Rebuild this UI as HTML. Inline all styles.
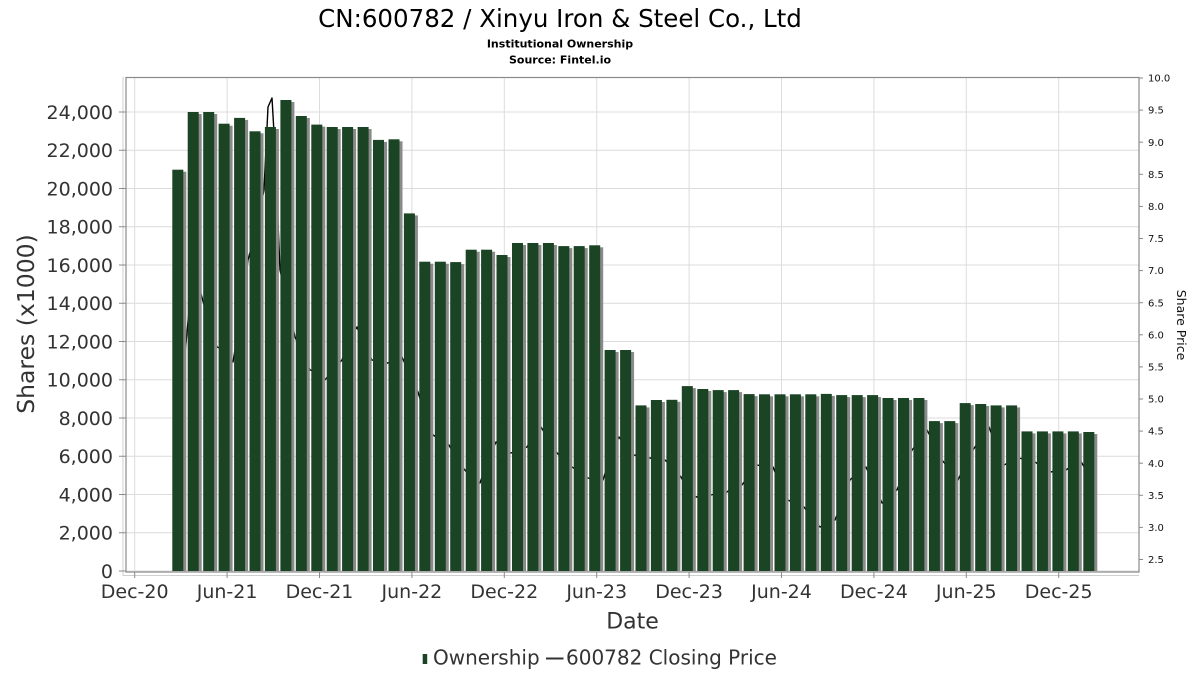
<!DOCTYPE html>
<html><head><meta charset="utf-8"><style>
html,body{margin:0;padding:0;background:#fff;}
svg{display:block;font-family:"DejaVu Sans","Liberation Sans",sans-serif;}
</style></head><body>
<svg width="1200" height="675" viewBox="0 0 1200 675" xmlns="http://www.w3.org/2000/svg">
<rect width="1200" height="675" fill="#fff"/>
<text x="560" y="27" font-size="24.5" text-anchor="middle" fill="#000">CN:600782 / Xinyu Iron &amp; Steel Co., Ltd</text>
<text x="560" y="47.5" font-size="11" font-weight="bold" text-anchor="middle" fill="#000">Institutional Ownership</text>
<text x="560" y="63.5" font-size="11" font-weight="bold" text-anchor="middle" fill="#000">Source: Fintel.io</text>

<!-- grid -->
<g stroke="#dcdcdc" stroke-width="1">
<line x1="126" y1="571" x2="1139" y2="571"/>
<line x1="126" y1="532.75" x2="1139" y2="532.75"/>
<line x1="126" y1="494.5" x2="1139" y2="494.5"/>
<line x1="126" y1="456.25" x2="1139" y2="456.25"/>
<line x1="126" y1="418" x2="1139" y2="418"/>
<line x1="126" y1="379.75" x2="1139" y2="379.75"/>
<line x1="126" y1="341.5" x2="1139" y2="341.5"/>
<line x1="126" y1="303.25" x2="1139" y2="303.25"/>
<line x1="126" y1="265" x2="1139" y2="265"/>
<line x1="126" y1="226.75" x2="1139" y2="226.75"/>
<line x1="126" y1="188.5" x2="1139" y2="188.5"/>
<line x1="126" y1="150.25" x2="1139" y2="150.25"/>
<line x1="126" y1="112" x2="1139" y2="112"/>
<line x1="134.7" y1="77" x2="134.7" y2="572"/>
<line x1="227.1" y1="77" x2="227.1" y2="572"/>
<line x1="319.5" y1="77" x2="319.5" y2="572"/>
<line x1="411.9" y1="77" x2="411.9" y2="572"/>
<line x1="504.3" y1="77" x2="504.3" y2="572"/>
<line x1="596.7" y1="77" x2="596.7" y2="572"/>
<line x1="689.1" y1="77" x2="689.1" y2="572"/>
<line x1="781.5" y1="77" x2="781.5" y2="572"/>
<line x1="873.9" y1="77" x2="873.9" y2="572"/>
<line x1="966.3" y1="77" x2="966.3" y2="572"/>
<line x1="1058.7" y1="77" x2="1058.7" y2="572"/>
</g>

<!-- price line (behind bars) -->
<polyline fill="none" stroke="#000" stroke-width="1.4" stroke-linejoin="round" points="176,420 184,365 190,300 200,290 208,320 217,347 225,350 233,362 240,320 248,260 256,230 264,190 268,107 272,98 275,150 280,270 287,300 295,337 303,355 310,370 318,372 325,380 333,370 342,360 349,340 357,327 364,345 372,360 380,362 387,363 395,362 402,357 410,375 418,392 425,415 433,435 441,440 449,445 456,458 464,469 472,478 480,483 488,460 496,442 503,450 511,453 519,450 527,447 534,435 541,427 549,440 557,453 564,460 572,467 580,472 588,478 596,480 603,480 611,455 619,437 626,447 634,455 642,457 650,458 657,459 665,460 673,468 681,477 688,490 696,497 703,496 711,495 719,493 727,492 735,485 742,485 749,475 756,465 765,466 773,467 780,485 788,500 796,504 804,507 812,518 820,527 828,524 835,520 843,500 850,480 858,472 866,467 874,485 882,503 889,497 897,490 905,470 912,450 920,440 927,430 935,445 942,460 950,470 958,480 965,465 973,450 981,438 989,427 996,446 1004,465 1012,461 1019,458 1027,460 1035,462 1043,467 1050,472 1058,471 1066,470 1073,465 1080,460 1086,470"/>

<!-- bar shadows -->
<g fill="#8a8a8a">
<rect x="175.3" y="171.7" width="11" height="399.3"/>
<rect x="190.7" y="114" width="11" height="457"/>
<rect x="206.2" y="114" width="11" height="457"/>
<rect x="221.6" y="125.7" width="11" height="445.3"/>
<rect x="237.1" y="119.9" width="11" height="451.1"/>
<rect x="252.5" y="133.3" width="11" height="437.7"/>
<rect x="267.9" y="129" width="11" height="442"/>
<rect x="283.4" y="102" width="11" height="469"/>
<rect x="298.8" y="118" width="11" height="453"/>
<rect x="314.3" y="126.6" width="11" height="444.4"/>
<rect x="329.7" y="129" width="11" height="442"/>
<rect x="345.1" y="129" width="11" height="442"/>
<rect x="360.6" y="129" width="11" height="442"/>
<rect x="376" y="141.9" width="11" height="429.1"/>
<rect x="391.5" y="141.3" width="11" height="429.7"/>
<rect x="406.9" y="215.4" width="11" height="355.6"/>
<rect x="422.3" y="263.7" width="11" height="307.3"/>
<rect x="437.8" y="263.7" width="11" height="307.3"/>
<rect x="453.2" y="264.1" width="11" height="306.9"/>
<rect x="468.7" y="251.7" width="11" height="319.3"/>
<rect x="484.1" y="251.7" width="11" height="319.3"/>
<rect x="499.5" y="257" width="11" height="314"/>
<rect x="515" y="245" width="11" height="326"/>
<rect x="530.4" y="245" width="11" height="326"/>
<rect x="545.9" y="245" width="11" height="326"/>
<rect x="561.3" y="248.1" width="11" height="322.9"/>
<rect x="576.7" y="248.1" width="11" height="322.9"/>
<rect x="592.2" y="247.3" width="11" height="323.7"/>
<rect x="607.6" y="352" width="11" height="219"/>
<rect x="623.1" y="352" width="11" height="219"/>
<rect x="638.5" y="407.4" width="11" height="163.6"/>
<rect x="653.9" y="402" width="11" height="169"/>
<rect x="669.4" y="401.8" width="11" height="169.2"/>
<rect x="684.8" y="388.1" width="11" height="182.9"/>
<rect x="700.3" y="391" width="11" height="180"/>
<rect x="715.7" y="392.1" width="11" height="178.9"/>
<rect x="731.1" y="392.1" width="11" height="178.9"/>
<rect x="746.6" y="396.1" width="11" height="174.9"/>
<rect x="762" y="396.3" width="11" height="174.7"/>
<rect x="777.5" y="396.3" width="11" height="174.7"/>
<rect x="792.9" y="396.3" width="11" height="174.7"/>
<rect x="808.3" y="396.3" width="11" height="174.7"/>
<rect x="823.8" y="395.9" width="11" height="175.1"/>
<rect x="839.2" y="397.1" width="11" height="173.9"/>
<rect x="854.7" y="397.1" width="11" height="173.9"/>
<rect x="870.1" y="397.1" width="11" height="173.9"/>
<rect x="885.5" y="400" width="11" height="171"/>
<rect x="901" y="400" width="11" height="171"/>
<rect x="916.4" y="400" width="11" height="171"/>
<rect x="931.9" y="423.1" width="11" height="147.9"/>
<rect x="947.3" y="423.1" width="11" height="147.9"/>
<rect x="962.7" y="405.1" width="11" height="165.9"/>
<rect x="978.2" y="406" width="11" height="165"/>
<rect x="993.6" y="407.4" width="11" height="163.6"/>
<rect x="1009.1" y="407.4" width="11" height="163.6"/>
<rect x="1024.5" y="433.4" width="11" height="137.6"/>
<rect x="1039.9" y="433.4" width="11" height="137.6"/>
<rect x="1055.4" y="433.4" width="11" height="137.6"/>
<rect x="1070.8" y="433.4" width="11" height="137.6"/>
<rect x="1086.3" y="434" width="11" height="137"/>
</g>
<!-- bars -->
<g fill="#1a4424">
<rect x="172.3" y="169.7" width="11" height="401.3"/>
<rect x="187.7" y="112" width="11" height="459"/>
<rect x="203.2" y="112" width="11" height="459"/>
<rect x="218.6" y="123.7" width="11" height="447.3"/>
<rect x="234.1" y="117.9" width="11" height="453.1"/>
<rect x="249.5" y="131.3" width="11" height="439.7"/>
<rect x="264.9" y="127" width="11" height="444"/>
<rect x="280.4" y="100" width="11" height="471"/>
<rect x="295.8" y="116" width="11" height="455"/>
<rect x="311.3" y="124.6" width="11" height="446.4"/>
<rect x="326.7" y="127" width="11" height="444"/>
<rect x="342.1" y="127" width="11" height="444"/>
<rect x="357.6" y="127" width="11" height="444"/>
<rect x="373" y="139.9" width="11" height="431.1"/>
<rect x="388.5" y="139.3" width="11" height="431.7"/>
<rect x="403.9" y="213.4" width="11" height="357.6"/>
<rect x="419.3" y="261.7" width="11" height="309.3"/>
<rect x="434.8" y="261.7" width="11" height="309.3"/>
<rect x="450.2" y="262.1" width="11" height="308.9"/>
<rect x="465.7" y="249.7" width="11" height="321.3"/>
<rect x="481.1" y="249.7" width="11" height="321.3"/>
<rect x="496.5" y="255" width="11" height="316"/>
<rect x="512" y="243" width="11" height="328"/>
<rect x="527.4" y="243" width="11" height="328"/>
<rect x="542.9" y="243" width="11" height="328"/>
<rect x="558.3" y="246.1" width="11" height="324.9"/>
<rect x="573.7" y="246.1" width="11" height="324.9"/>
<rect x="589.2" y="245.3" width="11" height="325.7"/>
<rect x="604.6" y="350" width="11" height="221"/>
<rect x="620.1" y="350" width="11" height="221"/>
<rect x="635.5" y="405.4" width="11" height="165.6"/>
<rect x="650.9" y="400" width="11" height="171"/>
<rect x="666.4" y="399.8" width="11" height="171.2"/>
<rect x="681.8" y="386.1" width="11" height="184.9"/>
<rect x="697.3" y="389" width="11" height="182"/>
<rect x="712.7" y="390.1" width="11" height="180.9"/>
<rect x="728.1" y="390.1" width="11" height="180.9"/>
<rect x="743.6" y="394.1" width="11" height="176.9"/>
<rect x="759" y="394.3" width="11" height="176.7"/>
<rect x="774.5" y="394.3" width="11" height="176.7"/>
<rect x="789.9" y="394.3" width="11" height="176.7"/>
<rect x="805.3" y="394.3" width="11" height="176.7"/>
<rect x="820.8" y="393.9" width="11" height="177.1"/>
<rect x="836.2" y="395.1" width="11" height="175.9"/>
<rect x="851.7" y="395.1" width="11" height="175.9"/>
<rect x="867.1" y="395.1" width="11" height="175.9"/>
<rect x="882.5" y="398" width="11" height="173"/>
<rect x="898" y="398" width="11" height="173"/>
<rect x="913.4" y="398" width="11" height="173"/>
<rect x="928.9" y="421.1" width="11" height="149.9"/>
<rect x="944.3" y="421.1" width="11" height="149.9"/>
<rect x="959.7" y="403.1" width="11" height="167.9"/>
<rect x="975.2" y="404" width="11" height="167"/>
<rect x="990.6" y="405.4" width="11" height="165.6"/>
<rect x="1006.1" y="405.4" width="11" height="165.6"/>
<rect x="1021.5" y="431.4" width="11" height="139.6"/>
<rect x="1036.9" y="431.4" width="11" height="139.6"/>
<rect x="1052.4" y="431.4" width="11" height="139.6"/>
<rect x="1067.8" y="431.4" width="11" height="139.6"/>
<rect x="1083.3" y="432" width="11" height="139"/>
</g>

<!-- frame -->
<rect x="126" y="77.5" width="1013" height="494.5" fill="none" stroke="#8a8a8a" stroke-width="1.2"/>
<line x1="123" y1="77" x2="123" y2="576" stroke="#cfcfcf" stroke-width="1"/>
<line x1="123" y1="575.5" x2="1139" y2="575.5" stroke="#cfcfcf" stroke-width="1"/>
<g stroke="#8a8a8a" stroke-width="1">
<line x1="119" y1="571" x2="126" y2="571"/>
<line x1="119" y1="532.75" x2="126" y2="532.75"/>
<line x1="119" y1="494.5" x2="126" y2="494.5"/>
<line x1="119" y1="456.25" x2="126" y2="456.25"/>
<line x1="119" y1="418" x2="126" y2="418"/>
<line x1="119" y1="379.75" x2="126" y2="379.75"/>
<line x1="119" y1="341.5" x2="126" y2="341.5"/>
<line x1="119" y1="303.25" x2="126" y2="303.25"/>
<line x1="119" y1="265" x2="126" y2="265"/>
<line x1="119" y1="226.75" x2="126" y2="226.75"/>
<line x1="119" y1="188.5" x2="126" y2="188.5"/>
<line x1="119" y1="150.25" x2="126" y2="150.25"/>
<line x1="119" y1="112" x2="126" y2="112"/>
<line x1="134.7" y1="572" x2="134.7" y2="578"/>
<line x1="227.1" y1="572" x2="227.1" y2="578"/>
<line x1="319.5" y1="572" x2="319.5" y2="578"/>
<line x1="411.9" y1="572" x2="411.9" y2="578"/>
<line x1="504.3" y1="572" x2="504.3" y2="578"/>
<line x1="596.7" y1="572" x2="596.7" y2="578"/>
<line x1="689.1" y1="572" x2="689.1" y2="578"/>
<line x1="781.5" y1="572" x2="781.5" y2="578"/>
<line x1="873.9" y1="572" x2="873.9" y2="578"/>
<line x1="966.3" y1="572" x2="966.3" y2="578"/>
<line x1="1058.7" y1="572" x2="1058.7" y2="578"/>
<line x1="1139" y1="78" x2="1143" y2="78"/>
<line x1="1139" y1="110.1" x2="1143" y2="110.1"/>
<line x1="1139" y1="142.2" x2="1143" y2="142.2"/>
<line x1="1139" y1="174.3" x2="1143" y2="174.3"/>
<line x1="1139" y1="206.4" x2="1143" y2="206.4"/>
<line x1="1139" y1="238.5" x2="1143" y2="238.5"/>
<line x1="1139" y1="270.6" x2="1143" y2="270.6"/>
<line x1="1139" y1="302.7" x2="1143" y2="302.7"/>
<line x1="1139" y1="334.8" x2="1143" y2="334.8"/>
<line x1="1139" y1="366.9" x2="1143" y2="366.9"/>
<line x1="1139" y1="399" x2="1143" y2="399"/>
<line x1="1139" y1="431.1" x2="1143" y2="431.1"/>
<line x1="1139" y1="463.2" x2="1143" y2="463.2"/>
<line x1="1139" y1="495.3" x2="1143" y2="495.3"/>
<line x1="1139" y1="527.4" x2="1143" y2="527.4"/>
<line x1="1139" y1="559.5" x2="1143" y2="559.5"/>
</g>

<!-- left tick labels -->
<g font-size="19" fill="#333" text-anchor="end">
<text x="113" y="577.8">0</text>
<text x="113" y="539.5">2,000</text>
<text x="113" y="501.3">4,000</text>
<text x="113" y="463">6,000</text>
<text x="113" y="424.8">8,000</text>
<text x="113" y="386.5">10,000</text>
<text x="113" y="348.3">12,000</text>
<text x="113" y="310">14,000</text>
<text x="113" y="271.8">16,000</text>
<text x="113" y="233.5">18,000</text>
<text x="113" y="195.3">20,000</text>
<text x="113" y="157">22,000</text>
<text x="113" y="118.8">24,000</text>
</g>
<!-- bottom tick labels -->
<g font-size="19" fill="#333" text-anchor="middle">
<text x="134.7" y="598">Dec-20</text>
<text x="227.1" y="598">Jun-21</text>
<text x="319.5" y="598">Dec-21</text>
<text x="411.9" y="598">Jun-22</text>
<text x="504.3" y="598">Dec-22</text>
<text x="596.7" y="598">Jun-23</text>
<text x="689.1" y="598">Dec-23</text>
<text x="781.5" y="598">Jun-24</text>
<text x="873.9" y="598">Dec-24</text>
<text x="966.3" y="598">Jun-25</text>
<text x="1058.7" y="598">Dec-25</text>
</g>
<!-- right tick labels -->
<g font-size="10" fill="#111">
<text x="1148" y="81.6">10.0</text>
<text x="1148" y="113.7">9.5</text>
<text x="1148" y="145.8">9.0</text>
<text x="1148" y="177.9">8.5</text>
<text x="1148" y="210">8.0</text>
<text x="1148" y="242.1">7.5</text>
<text x="1148" y="274.2">7.0</text>
<text x="1148" y="306.3">6.5</text>
<text x="1148" y="338.4">6.0</text>
<text x="1148" y="370.5">5.5</text>
<text x="1148" y="402.6">5.0</text>
<text x="1148" y="434.7">4.5</text>
<text x="1148" y="466.8">4.0</text>
<text x="1148" y="498.9">3.5</text>
<text x="1148" y="531">3.0</text>
<text x="1148" y="563.1">2.5</text>
</g>

<!-- axis titles -->
<text x="632.5" y="628.5" font-size="22" fill="#333" text-anchor="middle">Date</text>
<text transform="translate(34,324) rotate(-90)" font-size="23.5" fill="#333" text-anchor="middle">Shares (x1000)</text>
<text transform="translate(1177,325) rotate(90)" font-size="12.5" fill="#111" text-anchor="middle">Share Price</text>

<!-- legend -->
<rect x="422.7" y="654" width="4.5" height="10" fill="#1a4424"/>
<text x="433" y="664.5" font-size="20" fill="#333">Ownership</text>
<line x1="546" y1="658.5" x2="563.5" y2="658.5" stroke="#333" stroke-width="2"/>
<text x="566" y="664.5" font-size="20" fill="#333">600782 Closing Price</text>
</svg>
</body></html>
